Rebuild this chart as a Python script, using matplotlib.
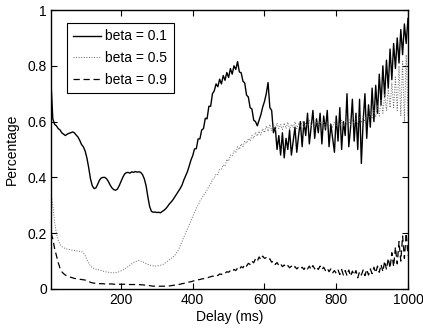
import matplotlib
matplotlib.use("Agg")
import matplotlib.pyplot as plt
import numpy as np

plt.rcParams['font.family'] = ['Liberation Sans', 'DejaVu Sans']
plt.rcParams['font.size'] = 10

# delay in ms, one sample every 5 ms
delay = np.arange(5, 1001, 5)

beta_01 = [
    0.74, 0.61, 0.59, 0.585, 0.575, 0.57, 0.56, 0.555, 0.55, 0.555,
    0.558, 0.56, 0.563, 0.56, 0.552, 0.545, 0.533, 0.518, 0.51, 0.495,
    0.47, 0.435, 0.395, 0.37, 0.36, 0.362, 0.375, 0.39, 0.398, 0.40,
    0.40, 0.395, 0.385, 0.372, 0.362, 0.356, 0.354, 0.358, 0.37, 0.385,
    0.40, 0.412, 0.417, 0.418, 0.415, 0.42, 0.418, 0.421, 0.419, 0.42,
    0.418, 0.41, 0.395, 0.37, 0.33, 0.295, 0.278, 0.275, 0.276, 0.274,
    0.275, 0.273, 0.278, 0.282, 0.288, 0.296, 0.305, 0.312, 0.32, 0.33,
    0.34, 0.35, 0.36, 0.372, 0.39, 0.405, 0.42, 0.44, 0.462, 0.478,
    0.502, 0.503, 0.538, 0.538, 0.57, 0.575, 0.612, 0.61, 0.655, 0.655,
    0.70, 0.71, 0.735, 0.725, 0.752, 0.735, 0.765, 0.748, 0.776, 0.758,
    0.79, 0.77, 0.80, 0.787, 0.815, 0.778, 0.775, 0.745, 0.738, 0.695,
    0.688, 0.65, 0.645, 0.605, 0.60, 0.585, 0.605, 0.625, 0.652, 0.672,
    0.70, 0.74, 0.65, 0.64, 0.56, 0.58, 0.50, 0.55, 0.48, 0.56,
    0.47, 0.54, 0.50, 0.57, 0.48, 0.53, 0.58, 0.49, 0.55, 0.60,
    0.51, 0.60, 0.55, 0.63, 0.52, 0.58, 0.64, 0.54, 0.61, 0.56,
    0.63, 0.52, 0.62, 0.57, 0.64, 0.51, 0.59, 0.54, 0.49, 0.62,
    0.53, 0.65, 0.50, 0.60, 0.55, 0.70, 0.51, 0.58, 0.68, 0.53,
    0.63, 0.50, 0.68, 0.45, 0.60, 0.70, 0.54, 0.66, 0.58, 0.72,
    0.60, 0.73, 0.63, 0.77, 0.66, 0.80, 0.69, 0.82, 0.72, 0.86,
    0.75, 0.88, 0.79, 0.90, 0.81, 0.93, 0.84, 0.95, 0.88, 0.97,
]

beta_05 = [
    0.34, 0.30, 0.24, 0.20, 0.175, 0.16, 0.152, 0.148, 0.145, 0.143,
    0.142, 0.14, 0.139, 0.138, 0.137, 0.136, 0.135, 0.134, 0.13, 0.12,
    0.105, 0.092, 0.083, 0.077, 0.073, 0.071, 0.07, 0.068, 0.066, 0.064,
    0.062, 0.061, 0.06, 0.059, 0.058, 0.058, 0.058, 0.06, 0.062, 0.065,
    0.068, 0.072, 0.076, 0.08, 0.085, 0.09, 0.095, 0.098, 0.10, 0.102,
    0.10, 0.098, 0.095, 0.091, 0.088, 0.086, 0.084, 0.083, 0.082, 0.083,
    0.084, 0.085, 0.087, 0.09, 0.095, 0.10, 0.105, 0.11, 0.115, 0.12,
    0.13, 0.14, 0.155, 0.17, 0.185, 0.20, 0.215, 0.23, 0.245, 0.26,
    0.275, 0.29, 0.30, 0.315, 0.325, 0.335, 0.345, 0.355, 0.368, 0.376,
    0.392, 0.398, 0.412, 0.41, 0.43, 0.43, 0.445, 0.44, 0.465, 0.458,
    0.48, 0.476, 0.495, 0.49, 0.51, 0.50, 0.52, 0.51, 0.53, 0.522,
    0.54, 0.53, 0.55, 0.54, 0.562, 0.548, 0.566, 0.552, 0.575, 0.56,
    0.585, 0.565, 0.59, 0.568, 0.592, 0.57, 0.595, 0.575, 0.59, 0.572,
    0.595, 0.575, 0.598, 0.572, 0.59, 0.578, 0.60, 0.575, 0.592, 0.58,
    0.60, 0.578, 0.595, 0.58, 0.605, 0.582, 0.598, 0.585, 0.60, 0.58,
    0.602, 0.585, 0.598, 0.58, 0.60, 0.585, 0.595, 0.58, 0.60, 0.585,
    0.60, 0.58, 0.605, 0.585, 0.60, 0.59, 0.61, 0.588, 0.605, 0.59,
    0.61, 0.59, 0.615, 0.595, 0.62, 0.60, 0.625, 0.605, 0.63, 0.61,
    0.64, 0.615, 0.66, 0.62, 0.68, 0.63, 0.70, 0.64, 0.72, 0.65,
    0.74, 0.65, 0.76, 0.64, 0.80, 0.62, 0.82, 0.60, 0.84, 0.62,
]

beta_09 = [
    0.20, 0.18, 0.145, 0.12, 0.095, 0.075, 0.062, 0.055, 0.05, 0.047,
    0.045, 0.042, 0.04, 0.038, 0.037, 0.036, 0.035, 0.034, 0.033, 0.032,
    0.03, 0.027, 0.024, 0.022, 0.021, 0.02, 0.02, 0.019, 0.019, 0.019,
    0.018, 0.018, 0.018, 0.018, 0.018, 0.017, 0.017, 0.017, 0.017, 0.017,
    0.017, 0.017, 0.017, 0.016, 0.016, 0.016, 0.016, 0.016, 0.016, 0.016,
    0.015, 0.015, 0.014, 0.014, 0.013, 0.012, 0.011, 0.01, 0.01, 0.01,
    0.01, 0.01, 0.01, 0.01, 0.01, 0.011, 0.011, 0.012, 0.013, 0.014,
    0.015, 0.016, 0.017, 0.019, 0.02, 0.022, 0.023, 0.025, 0.026, 0.028,
    0.03, 0.031, 0.033, 0.034, 0.036, 0.037, 0.039, 0.04, 0.042, 0.044,
    0.046, 0.045, 0.05, 0.048, 0.054, 0.052, 0.058, 0.056, 0.062, 0.06,
    0.066, 0.062, 0.07, 0.066, 0.075, 0.07, 0.08, 0.076, 0.088, 0.082,
    0.092, 0.088, 0.1, 0.094, 0.108, 0.1, 0.115, 0.105, 0.118, 0.11,
    0.112, 0.104, 0.108, 0.096, 0.1, 0.088, 0.095, 0.084, 0.09, 0.08,
    0.086, 0.078, 0.084, 0.076, 0.082, 0.074, 0.08, 0.072, 0.078, 0.072,
    0.078, 0.07, 0.08, 0.072, 0.082, 0.07, 0.084, 0.072, 0.08, 0.07,
    0.082, 0.07, 0.078, 0.066, 0.074, 0.062, 0.072, 0.058, 0.066, 0.056,
    0.068, 0.052, 0.07, 0.05, 0.066, 0.048, 0.068, 0.046, 0.064, 0.05,
    0.066, 0.04, 0.062, 0.05, 0.068, 0.048, 0.07, 0.05, 0.072, 0.055,
    0.078, 0.058, 0.082, 0.06, 0.088, 0.062, 0.1, 0.07, 0.11, 0.075,
    0.13, 0.08, 0.15, 0.09, 0.17, 0.1, 0.19, 0.11, 0.2, 0.12,
]

labels = ["beta = 0.1", "beta = 0.5", "beta = 0.9"]
xticks = [200, 400, 600, 800, 1000]
yticks = [0, 0.2, 0.4, 0.6, 0.8, 1]
yticklabels = ["0", "0.2", "0.4", "0.6", "0.8", "1"]

fig = plt.figure(figsize=(4.23, 3.29), dpi=100)
ax = fig.add_axes([0.1206, 0.1216, 0.8439, 0.848])

ax.plot(delay, beta_01, color="k", lw=1.0, ls="-", label=labels[0])
ax.plot(delay, beta_05, color="0.4", lw=0.7, ls=":", label=labels[1])
ax.plot(delay, beta_09, color="k", lw=0.9, ls=(0, (5, 3)), label=labels[2])

ax.set_xlim(5, 1000)
ax.set_ylim(0, 1)
ax.set_xticks(xticks)
ax.set_yticks(yticks)
ax.set_yticklabels(yticklabels)
ax.tick_params(direction="in", top=True, right=True, length=4, width=0.8, pad=3)
for s in ax.spines.values():
    s.set_linewidth(1.0)

ax.set_xlabel("Delay (ms)", labelpad=2)
ax.set_ylabel("Percentage", labelpad=6)

leg = ax.legend(loc="upper left", bbox_to_anchor=(0.045, 0.953), borderaxespad=0,
                fancybox=False, framealpha=1, edgecolor="k", handlelength=2.0,
                handletextpad=0.3, labelspacing=0.55, borderpad=0.45)
leg.get_frame().set_linewidth(0.8)

fig.savefig("out.png", dpi=100)
